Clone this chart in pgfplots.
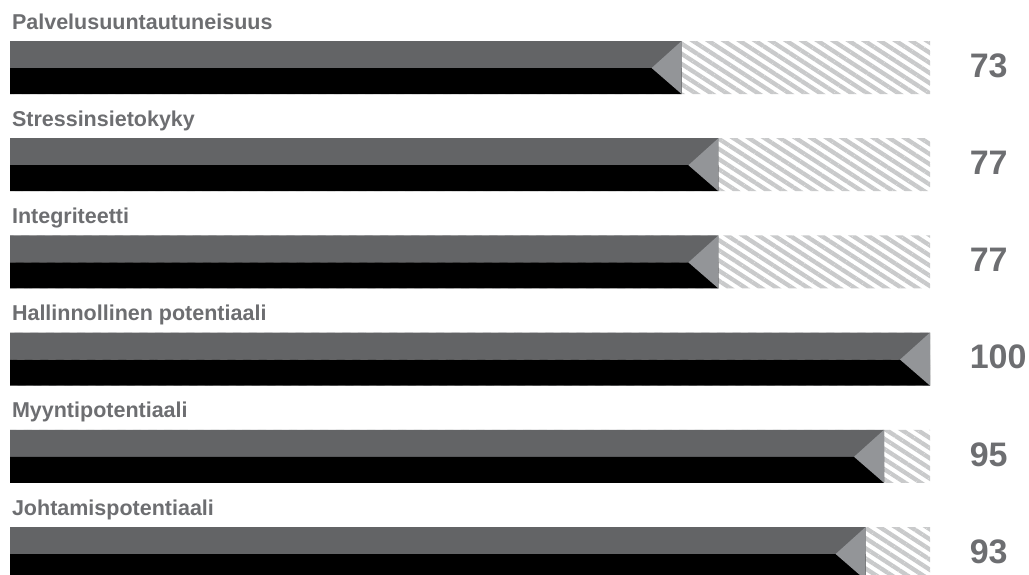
\documentclass[border=0pt]{standalone}
\usepackage{pgfplots}
\pgfplotsset{compat=1.18}
\usepackage{fontspec}
\setmainfont{Liberation Sans}
\usetikzlibrary{patterns.meta}
\definecolor{bargray}{HTML}{636466}
\definecolor{tri}{HTML}{939598}
\definecolor{hatch}{HTML}{C9CACB}
\definecolor{txt}{HTML}{6D6E71}
\begin{document}
\begin{tikzpicture}[x=1pt,y=1pt]
\useasboundingbox (0,0) rectangle (1029,574);
\begin{axis}[
  at={(10pt,574pt)}, anchor=north west,
  scale only axis, width=920pt, height=574pt,
  xmin=0, xmax=100, ymin=0, ymax=574, y dir=reverse,
  hide axis, clip=false,
]
% hatched remainder (full track to 100)
\addplot[xbar, bar shift=0pt, bar width=53pt, draw=none, fill=white,
  postaction={pattern={Lines[angle=-33,distance=8.5pt,line width=4.3pt]}, pattern color=hatch}]
  coordinates {(100,67.5) (100,164.7) (100,261.9) (100,359.1) (100,456.3) (100,553.5)};
% upper gray half
\addplot[xbar, bar shift=0pt, bar width=27pt, draw=none, fill=bargray]
  coordinates {(73,54.5) (77,151.7) (77,248.9) (100,346.1) (95,443.3) (93,540.5)};
% lower black half
\addplot[xbar, bar shift=0pt, bar width=26pt, draw=none, fill=black]
  coordinates {(73,81) (77,178.2) (77,275.4) (100,372.6) (95,469.8) (93,567)};
% arrow-head triangles
\addplot[draw=none, fill=tri, mark=none] coordinates {(73,41) (73,94) (69.74,68)};
\addplot[draw=none, fill=tri, mark=none] coordinates {(77,138.2) (77,191.2) (73.74,165.2)};
\addplot[draw=none, fill=tri, mark=none] coordinates {(77,235.4) (77,288.4) (73.74,262.4)};
\addplot[draw=none, fill=tri, mark=none] coordinates {(100,332.6) (100,385.6) (96.74,359.6)};
\addplot[draw=none, fill=tri, mark=none] coordinates {(95,429.8) (95,482.8) (91.74,456.8)};
\addplot[draw=none, fill=tri, mark=none] coordinates {(93,527) (93,580) (89.74,554)};
% labels
\begin{scope}[every node/.style={anchor=base west, inner sep=0pt, text=txt, font=\fontsize{21.5}{22}\selectfont\bfseries}]
\node at (axis cs:0.2,29) {Palvelusuuntautuneisuus};
\node at (axis cs:0.2,126.2) {Stressinsietokyky};
\node at (axis cs:0.2,223.4) {Integriteetti};
\node at (axis cs:0.2,320.6) {Hallinnollinen potentiaali};
\node at (axis cs:0.2,417.8) {Myyntipotentiaali};
\node at (axis cs:0.2,515) {Johtamispotentiaali};
\end{scope}
\begin{scope}[every node/.style={anchor=base west, inner sep=0pt, text=txt, font=\fontsize{34}{35}\selectfont\bfseries}]
\node at (axis cs:104.3,77.3) {73};
\node at (axis cs:104.3,174.5) {77};
\node at (axis cs:104.3,271.7) {77};
\node at (axis cs:104.3,368.9) {100};
\node at (axis cs:104.3,466.1) {95};
\node at (axis cs:104.3,563.3) {93};
\end{scope}
\end{axis}
\end{tikzpicture}
\end{document}
